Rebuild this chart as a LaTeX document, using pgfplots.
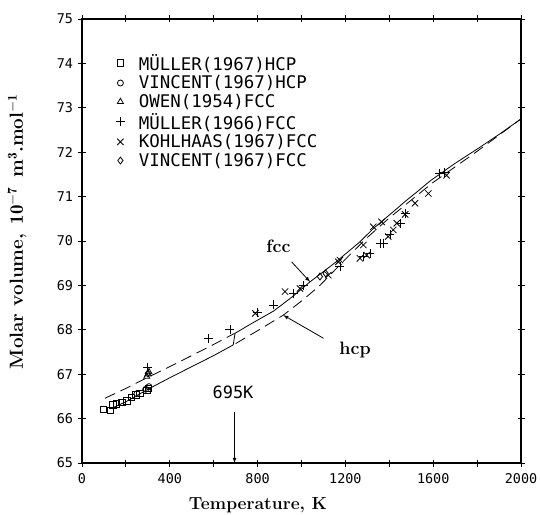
\documentclass[border=0pt]{standalone}
\usepackage{fontspec}
\usepackage{pgfplots}
\pgfplotsset{compat=1.18}
\newfontfamily\plotfont{DejaVu Sans Mono}
\makeatletter
\tikzset{longdash/.code={\tikz@addoption{\pgfsetdash{{11bp}{6bp}}{0pt}}}}
\makeatother
\begin{document}
\begin{tikzpicture}
\begin{axis}[
  scale only axis, width=439bp, height=444bp,
  xmin=0, xmax=2000, ymin=65, ymax=75,
  xtick={0,400,800,1200,1600,2000}, minor xtick={200,600,1000,1400,1800},
  ytick={65,66,67,68,69,70,71,72,73,74,75},
  tick align=center, major tick length=7bp, minor tick length=7bp,
  tick style={line width=0.9pt, black},
  axis line style={line width=1.3pt},
  /pgf/number format/assume math mode=true,
  /pgf/number format/1000 sep={},
  tick label style={font=\plotfont\fontsize{13.5}{14}\selectfont},
  xticklabel style={yshift=-3bp},
  yticklabel style={xshift=-2bp},
  legend style={at={(axis description cs:0.07,0.93)}, anchor=north west, draw=none, fill=none,
    font=\plotfont\fontsize{17.5}{20}\selectfont,
    /tikz/every odd column/.append style={column sep=12bp}},
  legend cell align=left,
]
\addplot[black, line width=0.8pt, forget plot] coordinates {
 (130,66.22) (200,66.38) (300,66.66) (400,66.92) (500,67.17) (600,67.42) (689,67.66)
 (697,67.92) (765,68.12) (872,68.42) (960,68.75) (1039,69.08) (1150,69.5) (1266,69.98)
 (1327,70.28) (1418,70.66) (1472,70.89) (1532,71.13) (1585,71.35) (1700,71.75)
 (1800,72.07) (1900,72.4) (2000,72.75)};
\addplot[black, line width=0.8pt, longdash, forget plot] coordinates {
 (105,66.46) (200,66.68) (300,66.93) (400,67.17) (500,67.42) (600,67.67) (695,67.92)};
\addplot[black, line width=0.8pt, longdash, forget plot] coordinates {
 (700,67.69) (800,67.98) (917,68.33) (1008,68.68) (1084,69.0) (1206,69.62) (1300,70.08)
 (1400,70.52) (1470,70.8) (1532,71.05) (1600,71.32) (1800,72.02) (2000,72.75)};
\addplot[only marks, mark=square, mark size=3.2pt, black, thick] coordinates {
 (97,66.21) (128,66.19) (140,66.31) (158,66.33) (181,66.36) (204,66.40) (226,66.48)
 (246,66.53) (264,66.57) (295,66.64) (302,66.68)};
\addlegendentry{MÜLLER(1967)HCP}
\addplot[only marks, mark=o, mark size=3pt, black, thick] coordinates {
 (250,66.56) (290,66.66) (305,66.72)};
\addlegendentry{VINCENT(1967)HCP}
\addplot[only marks, mark=triangle, mark size=3.5pt, black, thick] coordinates {
 (295,66.95) (300,67.0) (305,67.05)};
\addlegendentry{OWEN(1954)FCC}
\addplot[only marks, mark=+, mark size=4.5pt, black, thick] coordinates {
 (300,67.15) (575,67.8) (674,68.0) (800,68.4) (872,68.56) (963,68.82) (1010,69.0)
 (1175,69.42) (1282,69.65) (1312,69.72) (1358,69.95) (1373,69.95) (1403,70.14)
 (1449,70.4) (1472,70.62) (1630,71.52) (1650,71.55)};
\addlegendentry{MÜLLER(1966)FCC}
\addplot[only marks, mark=x, mark size=4.5pt, black, thick] coordinates {
 (790,68.37) (925,68.86) (993,68.93) (1122,69.23) (1168,69.53) (1175,69.57)
 (1266,69.61) (1297,69.68) (1282,69.91) (1327,70.32) (1365,70.43) (1395,70.1)
 (1418,70.25) (1434,70.4) (1472,70.6) (1517,70.85) (1578,71.07) (1661,71.48)};
\addlegendentry{KOHLHAAS(1967)FCC}
\addplot[only marks, mark=diamond, mark size=3.5pt, black, thick] coordinates {
 (300,67.02) (1084,69.2) (1110,69.27)};
\addlegendentry{VINCENT(1967)FCC}
\coordinate (A1) at (axis cs:695,66.15);
\coordinate (A2) at (axis cs:695,65);
\coordinate (L695) at (axis cs:688,66.6);
\coordinate (Lfcc) at (axis cs:895,69.89);
\coordinate (F1) at (axis cs:955,69.53);
\coordinate (F2) at (axis cs:1039,69.08);
\coordinate (Lhcp) at (axis cs:1244,67.55);
\coordinate (H1) at (axis cs:1100,67.81);
\coordinate (H2) at (axis cs:917,68.33);
\coordinate (XL) at (axis cs:802,64.05);
\coordinate (YL) at (axis cs:-296,70.21);
\end{axis}
\draw[-latex, line width=0.8pt] (A1) -- (A2);
\node[font=\plotfont\fontsize{17}{18}\selectfont] at (L695) {695K};
\node[font=\bfseries\fontsize{18}{18}\selectfont] at (Lfcc) {fcc};
\draw[-latex, line width=0.8pt] (F1) -- (F2);
\node[font=\bfseries\fontsize{18}{18}\selectfont] at (Lhcp) {hcp};
\draw[-latex, line width=0.8pt] (H1) -- (H2);
\node[font=\bfseries\fontsize{17.5}{18}\selectfont] at (XL) {Temperature, K};
\node[font=\bfseries\fontsize{19}{19}\selectfont, rotate=90] at (YL) {Molar volume,\enspace $\mathbf{10^{-7}}$\enspace m$^{\mathbf{3}}$.mol$^{\mathbf{-1}}$};
\pgfresetboundingbox
\path[use as bounding box] ([shift={(-82bp,-52bp)}]current axis.south west) rectangle ([shift={(19bp,19bp)}]current axis.north east);
\end{tikzpicture}
\end{document}
